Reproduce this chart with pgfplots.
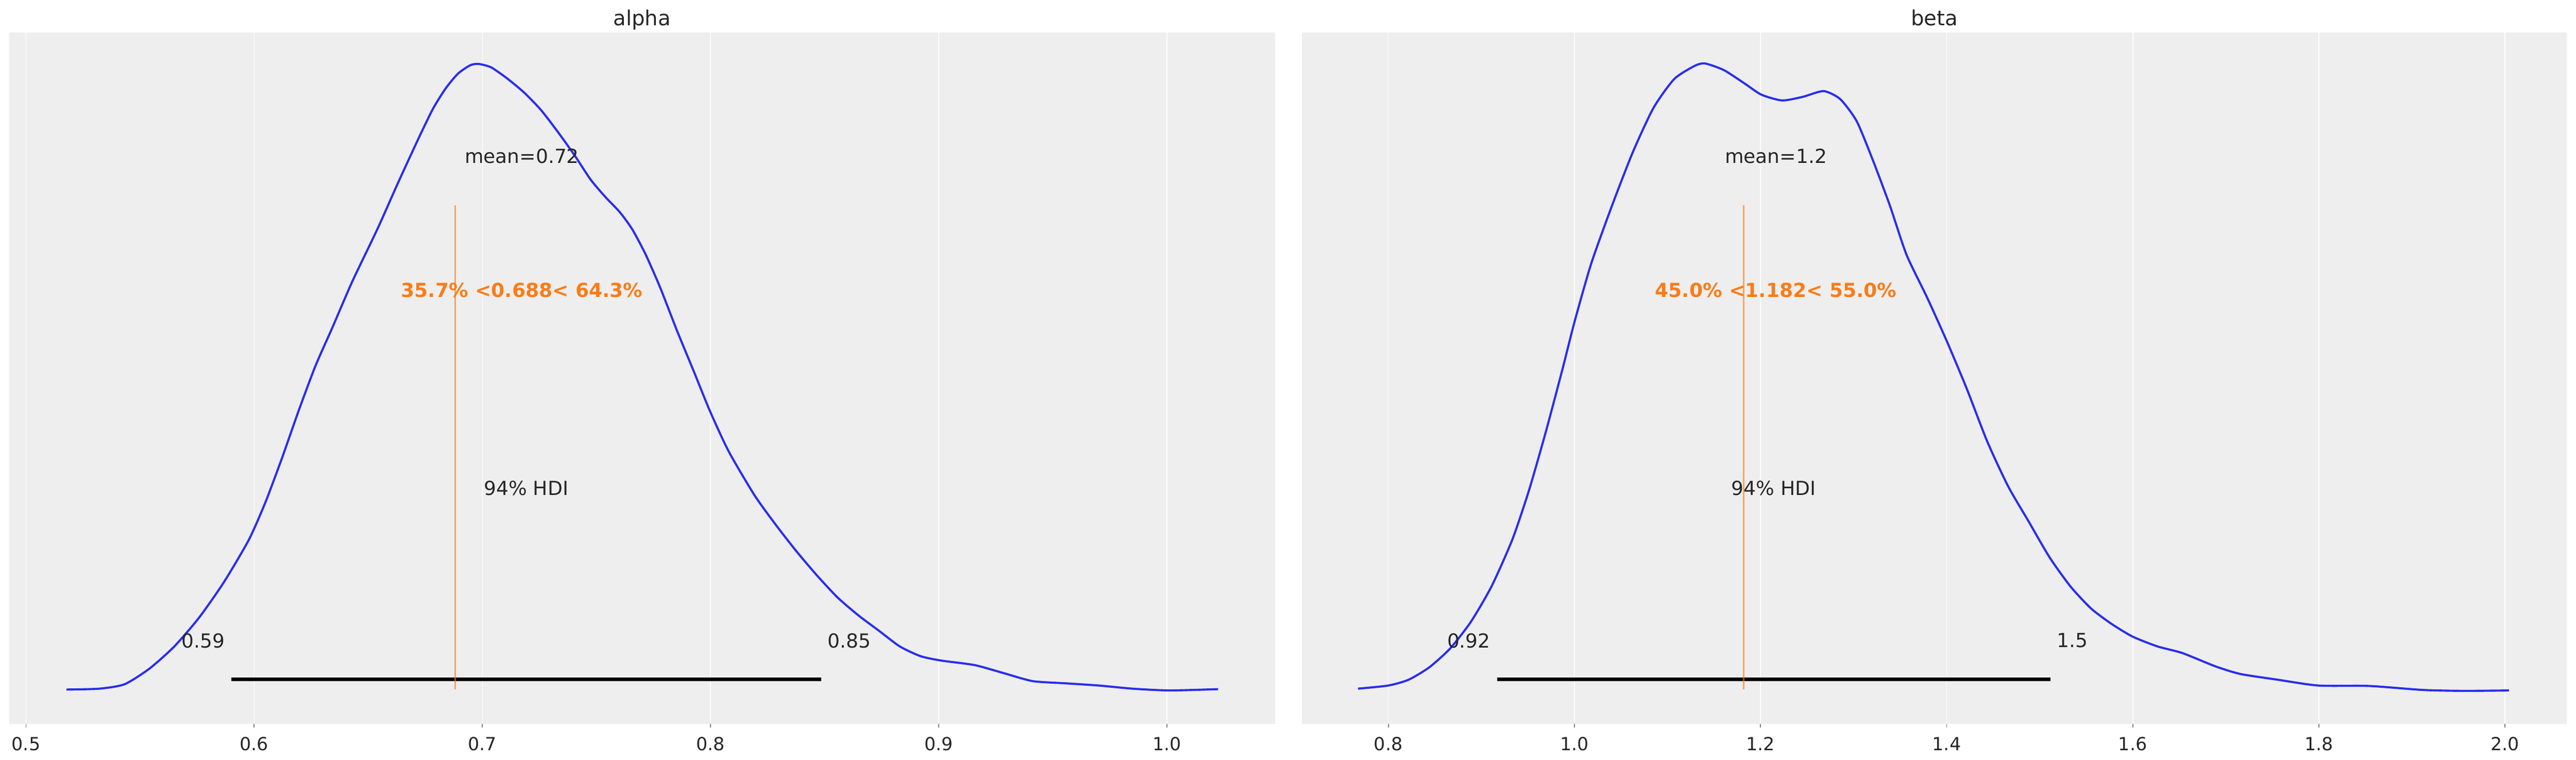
\documentclass[border=0pt]{standalone}
\usepackage{pgfplots}
\pgfplotsset{compat=1.18}
\usepackage{fontspec}
\setmainfont{DejaVu Sans}
\definecolor{bg}{HTML}{EEEEEE}
\definecolor{curve}{HTML}{2A2EEC}
\definecolor{orangeC}{HTML}{FA7C17}
\definecolor{txt}{HTML}{262626}
\definecolor{tickc}{HTML}{808080}
\pgfplotsset{
  every axis title shift=0pt,
  postplot/.style={
    scale only axis,
    height=356.64pt,
    ymin=0, ymax=1,
    axis background/.style={fill=bg},
    axis line style={draw=none},
    ytick=\empty,
    xtick pos=bottom,
    tick align=outside,
    major tick length=1.9pt,
    tick style={draw=tickc, line width=0.5pt},
    xmajorgrids,
    grid style={white, line width=0.45pt},
    xticklabel style={font=\fontsize{9.3}{11}\selectfont, text=txt, anchor=north, inner sep=0pt, yshift=-4.8pt},
    title style={at={(0.5,1)}, anchor=base, yshift=3.6pt, inner sep=0pt, font=\fontsize{10.7}{13}\selectfont, text=txt},
    clip=false,
  },
}
\tikzset{
  annot/.style={font=\fontsize{10}{12}\selectfont, text=txt, inner sep=0pt},
  refannot/.style={font=\fontsize{10}{12}\selectfont\bfseries, text=orangeC, inner sep=0pt},
}
\pgfplotstableread{
x v
0.5177 0.0494
0.5322 0.0507
0.5432 0.0571
0.5541 0.0797
0.5650 0.1118
0.5759 0.1537
0.5868 0.2052
0.5977 0.2664
0.6050 0.3211
0.6123 0.3855
0.6195 0.4531
0.6268 0.5174
0.6341 0.5720
0.6430 0.6400
0.6539 0.7151
0.6630 0.7824
0.6721 0.8475
0.6784 0.8901
0.6839 0.9192
0.6893 0.9406
0.6948 0.9529
0.6985 0.9545
0.7039 0.9495
0.7112 0.9327
0.7185 0.9125
0.7257 0.8878
0.7330 0.8565
0.7403 0.8228
0.7475 0.7869
0.7539 0.7620
0.7603 0.7398
0.7657 0.7151
0.7715 0.6791
0.7779 0.6310
0.7852 0.5692
0.7925 0.5108
0.7997 0.4524
0.8079 0.3941
0.8192 0.3307
0.8283 0.2889
0.8374 0.2503
0.8465 0.2149
0.8556 0.1827
0.8647 0.1569
0.8738 0.1344
0.8829 0.1118
0.8920 0.0977
0.9011 0.0913
0.9157 0.0848
0.9284 0.0732
0.9411 0.0616
0.9557 0.0584
0.9702 0.0552
0.9848 0.0507
1.0011 0.0481
1.0224 0.0500
}\alphakde
\pgfplotstableread{
x v
0.7675 0.0507
0.8000 0.0552
0.8218 0.0636
0.8441 0.0816
0.8664 0.1087
0.8887 0.1473
0.9110 0.1988
0.9333 0.2664
0.9511 0.3372
0.9690 0.4209
0.9868 0.5110
1.0002 0.5818
1.0180 0.6655
1.0403 0.7492
1.0626 0.8264
1.0849 0.8908
1.1072 0.9327
1.1295 0.9520
1.1406 0.9552
1.1607 0.9456
1.1830 0.9262
1.2008 0.9102
1.2231 0.9018
1.2454 0.9070
1.2677 0.9153
1.2856 0.9037
1.3034 0.8715
1.3212 0.8136
1.3391 0.7492
1.3569 0.6784
1.3792 0.6160
1.4003 0.5530
1.4214 0.4853
1.4437 0.4080
1.4660 0.3436
1.4883 0.2921
1.5106 0.2406
1.5329 0.1988
1.5552 0.1666
1.5775 0.1441
1.5998 0.1260
1.6265 0.1118
1.6533 0.1022
1.6889 0.0829
1.7157 0.0719
1.7558 0.0636
1.7995 0.0552
1.8539 0.0546
1.9119 0.0488
1.9564 0.0475
2.0042 0.0481
}\betakde
\begin{document}
\begin{tikzpicture}
\path[use as bounding box] (0,0) rectangle (1330.32pt,391.92pt);
% alpha
\begin{axis}[postplot,
  at={(4.68pt,18.48pt)}, anchor=south west,
  width=653.8pt,
  xmin=0.49257, xmax=1.04735,
  xtick={0.5,0.6,0.7,0.8,0.9,1.0},
  xticklabels={0.5,0.6,0.7,0.8,0.9,1.0},
  title={alpha}]
\addplot[curve, line width=1.1pt, smooth, tension=0.4] table[x=x,y=v] {\alphakde};
\addplot[black, line width=2pt] coordinates {(0.5899,0.0642) (0.8485,0.0642)};
\addplot[orangeC, opacity=0.65, line width=0.9pt] coordinates {(0.688,0.0494) (0.688,0.7505)};
\node[annot] at (axis cs:0.7173,0.821) {mean=0.72};
\node[refannot] at (axis cs:0.7173,0.627) {35.7\% <0.688< 64.3\%};
\node[annot] at (axis cs:0.7192,0.3404) {94\% HDI};
\node[annot] at (axis cs:0.5777,0.1202) {0.59};
\node[annot] at (axis cs:0.8607,0.1202) {0.85};
\end{axis}
% beta
\begin{axis}[postplot,
  at={(672.24pt,18.48pt)}, anchor=south west,
  width=653.3pt,
  xmin=0.707, xmax=2.0663,
  xtick={0.8,1.0,1.2,1.4,1.6,1.8,2.0},
  xticklabels={0.8,1.0,1.2,1.4,1.6,1.8,2.0},
  title={beta}]
\addplot[curve, line width=1.1pt, smooth, tension=0.4] table[x=x,y=v] {\betakde};
\addplot[black, line width=2pt] coordinates {(0.9168,0.0642) (1.5115,0.0642)};
\addplot[orangeC, opacity=0.65, line width=0.9pt] coordinates {(1.182,0.0494) (1.182,0.7505)};
\node[annot] at (axis cs:1.2165,0.821) {mean=1.2};
\node[refannot] at (axis cs:1.2165,0.627) {45.0\% <1.182< 55.0\%};
\node[annot] at (axis cs:1.2142,0.3404) {94\% HDI};
\node[annot] at (axis cs:0.8865,0.1202) {0.92};
\node[annot] at (axis cs:1.5351,0.1202) {1.5};
\end{axis}
\end{tikzpicture}
\end{document}
